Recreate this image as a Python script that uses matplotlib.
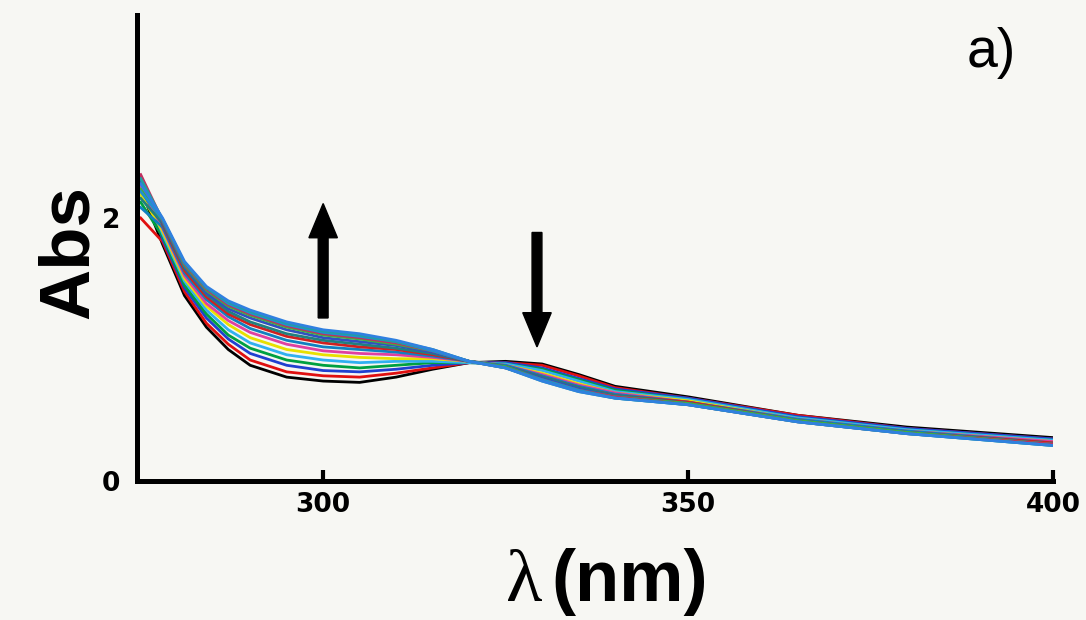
import matplotlib
matplotlib.use("Agg")
import matplotlib.pyplot as plt

# wavelength grid (nm)
wavelengths = [275, 278, 281, 284, 287, 290, 295, 300, 305, 310,
               315, 320, 325, 330, 335, 340, 350, 365, 380, 400]

# absorbance spectra of the titration (first = black, last = final)
spectra = [
    [2.22, 1.80, 1.41, 1.17, 1.00, 0.88, 0.79, 0.76, 0.75, 0.79, 0.85, 0.90, 0.91, 0.89, 0.81, 0.72, 0.64, 0.50, 0.41, 0.33],
    [2.00, 1.82, 1.44, 1.20, 1.04, 0.92, 0.83, 0.80, 0.79, 0.82, 0.86, 0.90, 0.90, 0.88, 0.80, 0.71, 0.63, 0.50, 0.40, 0.32],
    [2.27, 1.84, 1.47, 1.24, 1.08, 0.97, 0.88, 0.84, 0.83, 0.85, 0.88, 0.90, 0.90, 0.86, 0.78, 0.70, 0.63, 0.49, 0.40, 0.32],
    [2.12, 1.86, 1.49, 1.27, 1.11, 1.01, 0.92, 0.88, 0.86, 0.88, 0.90, 0.90, 0.89, 0.85, 0.77, 0.69, 0.62, 0.48, 0.39, 0.31],
    [2.30, 1.88, 1.52, 1.30, 1.15, 1.05, 0.96, 0.92, 0.90, 0.91, 0.91, 0.90, 0.89, 0.84, 0.76, 0.68, 0.62, 0.48, 0.39, 0.31],
    [2.18, 1.90, 1.54, 1.33, 1.19, 1.09, 1.00, 0.96, 0.94, 0.93, 0.93, 0.91, 0.88, 0.82, 0.74, 0.67, 0.61, 0.47, 0.38, 0.30],
    [2.25, 1.92, 1.56, 1.35, 1.22, 1.13, 1.04, 0.99, 0.97, 0.96, 0.94, 0.91, 0.88, 0.81, 0.73, 0.67, 0.60, 0.47, 0.38, 0.30],
    [2.08, 1.93, 1.58, 1.38, 1.25, 1.16, 1.07, 1.02, 1.00, 0.98, 0.95, 0.91, 0.88, 0.80, 0.72, 0.66, 0.60, 0.47, 0.38, 0.29],
    [2.32, 1.95, 1.60, 1.40, 1.27, 1.19, 1.10, 1.05, 1.02, 1.00, 0.96, 0.91, 0.87, 0.79, 0.71, 0.65, 0.60, 0.46, 0.37, 0.29],
    [2.15, 1.96, 1.62, 1.42, 1.29, 1.21, 1.12, 1.07, 1.04, 1.01, 0.97, 0.91, 0.87, 0.79, 0.71, 0.65, 0.59, 0.46, 0.37, 0.28],
    [2.28, 1.97, 1.63, 1.43, 1.31, 1.24, 1.15, 1.09, 1.06, 1.03, 0.98, 0.91, 0.87, 0.78, 0.70, 0.64, 0.59, 0.46, 0.37, 0.28],
    [2.22, 1.98, 1.64, 1.45, 1.33, 1.26, 1.17, 1.11, 1.08, 1.04, 0.99, 0.91, 0.87, 0.77, 0.69, 0.64, 0.59, 0.46, 0.37, 0.28],
    [2.33, 1.98, 1.65, 1.46, 1.34, 1.27, 1.18, 1.12, 1.09, 1.05, 0.99, 0.91, 0.86, 0.77, 0.69, 0.64, 0.58, 0.45, 0.36, 0.28],
    [2.20, 1.99, 1.66, 1.47, 1.35, 1.28, 1.19, 1.13, 1.10, 1.06, 0.99, 0.91, 0.86, 0.77, 0.69, 0.63, 0.58, 0.45, 0.36, 0.27],
    [2.30, 1.99, 1.66, 1.47, 1.36, 1.29, 1.20, 1.14, 1.11, 1.06, 1.00, 0.91, 0.86, 0.76, 0.68, 0.63, 0.58, 0.45, 0.36, 0.27],
    [2.26, 2.00, 1.67, 1.48, 1.37, 1.30, 1.21, 1.15, 1.12, 1.07, 1.00, 0.91, 0.86, 0.76, 0.68, 0.63, 0.58, 0.45, 0.36, 0.27],
]

line_colors = ["black", "#e01010", "#2040d0", "#00a040", "#30b0f0", "#e8e000",
               "#e040a0", "#1080c0", "#d02020", "#208080", "#3050c0", "#40b040",
               "#c03060", "#2090d0", "#20a0a0", "#3080e0"]

x_ticks = [300, 350, 400]
y_ticks = [0, 2]

# arrows: (x, tail, tip)
arrow_up = (300, 1.24, 2.11)
arrow_down = (329.3, 1.89, 1.02)

bg = "#f7f7f3"
fig = plt.figure(figsize=(10.86, 6.2), dpi=100, facecolor=bg)
ax = fig.add_axes([0.1262, 0.2242, 0.9696 - 0.1262, 0.9758 - 0.2242])
ax.set_facecolor(bg)

for spec, col in zip(spectra, line_colors):
    ax.plot(wavelengths, spec, color=col, lw=2.0, solid_joinstyle="round")

for (xa, y0, y1) in (arrow_up, arrow_down):
    ax.arrow(xa, y0, 0, y1 - y0, width=1.35, head_width=3.9,
             head_length=0.26, length_includes_head=True,
             color="black", zorder=5)

ax.set_xlim(274.5, 400)
ax.set_ylim(0, 3.544)

for s in ("top", "right"):
    ax.spines[s].set_visible(False)
for s in ("left", "bottom"):
    ax.spines[s].set_linewidth(3.6)
    ax.spines[s].set_capstyle("projecting")

ax.set_xticks(x_ticks)
ax.set_yticks(y_ticks)
ax.tick_params(axis="x", direction="in", length=8, width=3, pad=8)
ax.tick_params(axis="y", length=0, pad=12)
for lab in ax.get_xticklabels() + ax.get_yticklabels():
    lab.set_fontfamily("DejaVu Sans")
    lab.set_fontweight("bold")
    lab.set_fontsize(19)

fig.text(70 / 1086, 1 - 252 / 620, "Abs", rotation=90, ha="center", va="center",
         fontsize=51, fontweight="bold", family="Liberation Sans")
fig.text(542 / 1086, 1 - 601 / 620, "λ", ha="right", va="baseline",
         fontsize=54, family="Liberation Serif")
fig.text(551 / 1086, 1 - 601 / 620, "(nm)", ha="left", va="baseline",
         fontsize=52, fontweight="bold", family="Liberation Sans")
fig.text(967 / 1086, 1 - 67 / 620, "a)", ha="left", va="baseline",
         fontsize=40, family="Liberation Sans")

fig.savefig("out.png", dpi=100, facecolor=bg)
